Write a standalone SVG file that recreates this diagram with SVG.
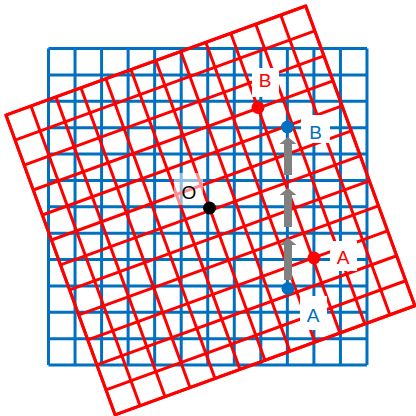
<svg xmlns="http://www.w3.org/2000/svg" width="416" height="416" viewBox="0 0 416 416">
<defs>
<style>
.blue{stroke:#0070C0;stroke-width:3;fill:none}
.red{stroke:#FF0000;stroke-width:3;fill:none}
.box{fill:#FFFFFF}
.lbl{font-family:"Liberation Sans",Arial,sans-serif;font-size:19px;text-anchor:middle}
.arrow{fill:#808080}
</style>
</defs>
<rect width="416" height="416" fill="#FFFFFF"/>
<g id="blue-grid" class="blue">
<path d="M48.5 48.5V365M75.04 48.5V365M101.58 48.5V365M128.12 48.5V365M154.66 48.5V365M181.2 48.5V365M207.74 48.5V365M234.28 48.5V365M260.82 48.5V365M287.36 48.5V365M313.9 48.5V365M340.44 48.5V365M366.98 48.5V365"/>
<path d="M48.5 48.5H367M48.5 74.88H367M48.5 101.25H367M48.5 127.63H367M48.5 154H367M48.5 180.38H367M48.5 206.75H367M48.5 233.13H367M48.5 259.5H367M48.5 285.88H367M48.5 312.25H367M48.5 338.63H367M48.5 365H367"/>
</g>
<g id="red-grid" class="red" transform="translate(210.4 210.4) rotate(-20)">
<path d="M-159.5 -159.5V159.5M-132.92 -159.5V159.5M-106.33 -159.5V159.5M-79.75 -159.5V159.5M-53.17 -159.5V159.5M-26.58 -159.5V159.5M0 -159.5V159.5M26.58 -159.5V159.5M53.17 -159.5V159.5M79.75 -159.5V159.5M106.33 -159.5V159.5M132.92 -159.5V159.5M159.5 -159.5V159.5"/>
<path d="M-159.5 -159.5H159.5M-159.5 -132.92H159.5M-159.5 -106.33H159.5M-159.5 -79.75H159.5M-159.5 -53.17H159.5M-159.5 -26.58H159.5M-159.5 0H159.5M-159.5 26.58H159.5M-159.5 53.17H159.5M-159.5 79.75H159.5M-159.5 106.33H159.5M-159.5 132.92H159.5M-159.5 159.5H159.5"/>
<rect x="-159.5" y="-159.5" width="319" height="319"/>
</g>
<g id="connectors">
<path class="arrow" d="M284 280V245H279.5L288 238L296.5 245H292V280Z"/>
<path class="arrow" d="M284 227V195H279.5L288 188L296.5 195H292V227Z"/>
<path class="arrow" d="M284 175V144H279.5L288 137L296.5 144H292V175Z"/>
</g>
<g id="node-O">
<rect x="174" y="173" width="29" height="32" fill="#FFFFFF" fill-opacity="0.55"/>
<circle cx="209.5" cy="208" r="6.5" fill="#000000"/>
<text class="lbl" x="189" y="198.5" fill="#000000">O</text>
</g>
<g id="node-B-red">
<rect class="box" x="252" y="68" width="27" height="29"/>
<circle cx="258" cy="107.5" r="6.5" fill="#FF0000"/>
<text class="lbl" x="265" y="86.5" fill="#FF0000">B</text>
</g>
<g id="node-B-blue">
<rect class="box" x="301" y="115" width="29" height="28"/>
<circle cx="287.5" cy="127" r="6.5" fill="#0070C0"/>
<text class="lbl" x="315.5" y="138.5" fill="#0070C0">B</text>
</g>
<g id="node-A-red">
<rect class="box" x="330" y="241" width="27" height="30"/>
<circle cx="314" cy="258" r="6.5" fill="#FF0000"/>
<text class="lbl" x="343" y="263.5" fill="#FF0000">A</text>
</g>
<g id="node-A-blue">
<rect class="box" x="300" y="296" width="27" height="34"/>
<circle cx="288" cy="288.5" r="6.5" fill="#0070C0"/>
<text class="lbl" x="313" y="321.5" fill="#0070C0">A</text>
</g>
</svg>
